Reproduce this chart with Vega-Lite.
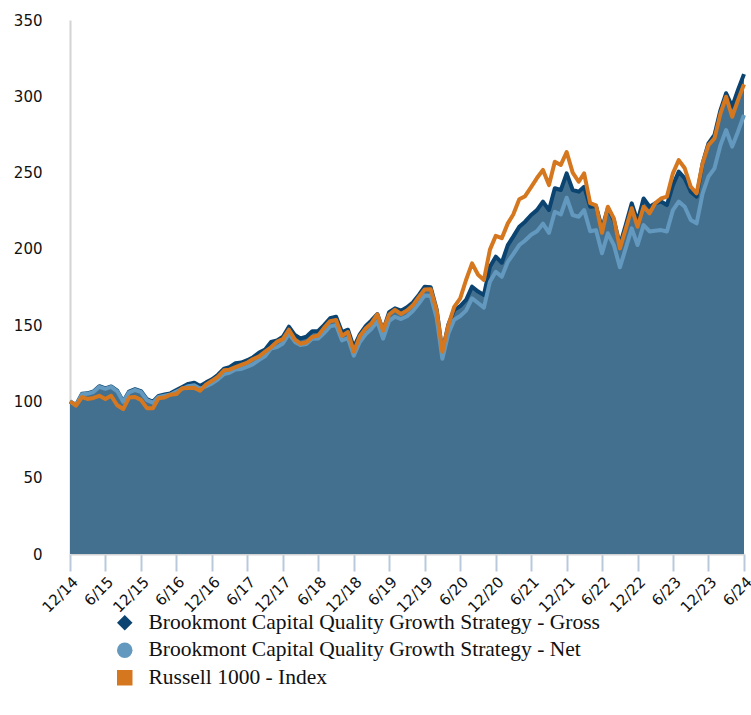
{
  "$schema": "https://vega.github.io/schema/vega-lite/v6.json",
  "autosize": {"type": "none"},
  "padding": {"left": 70, "top": 20, "right": 7, "bottom": 161},
  "width": 674,
  "height": 534,
  "background": "white",
  "config": {"view": {"stroke": null}},
  "data": {"values": [
    {"d":"2014-12-01","g":100,"n":100,"r":100},
    {"d":"2015-01-01","g":97.7,"n":97.5,"r":97.3},
    {"d":"2015-02-01","g":105,"n":104.7,"r":102.9},
    {"d":"2015-03-01","g":105.3,"n":105,"r":101.6},
    {"d":"2015-04-01","g":106.5,"n":106.2,"r":102.3},
    {"d":"2015-05-01","g":110,"n":109.6,"r":103.7},
    {"d":"2015-06-01","g":108.5,"n":108.2,"r":101.6},
    {"d":"2015-07-01","g":109.8,"n":109.5,"r":103.7},
    {"d":"2015-08-01","g":107,"n":106.6,"r":97.5},
    {"d":"2015-09-01","g":100,"n":99.7,"r":95.0},
    {"d":"2015-10-01","g":106.5,"n":106,"r":102.5},
    {"d":"2015-11-01","g":108,"n":107.5,"r":102.9},
    {"d":"2015-12-01","g":106.8,"n":106.2,"r":101.0},
    {"d":"2016-01-01","g":101.5,"n":100.9,"r":95.6},
    {"d":"2016-02-01","g":99.8,"n":99.2,"r":95.6},
    {"d":"2016-03-01","g":103.6,"n":103,"r":102.1},
    {"d":"2016-04-01","g":104.5,"n":103.8,"r":102.6},
    {"d":"2016-05-01","g":105.3,"n":104.5,"r":104.4},
    {"d":"2016-06-01","g":107.5,"n":106.5,"r":104.8},
    {"d":"2016-07-01","g":109.5,"n":108.3,"r":108.7},
    {"d":"2016-08-01","g":111.5,"n":110,"r":108.8},
    {"d":"2016-09-01","g":112.3,"n":110.6,"r":108.9},
    {"d":"2016-10-01","g":110.1,"n":108.3,"r":107.0},
    {"d":"2016-11-01","g":112.5,"n":110,"r":111.2},
    {"d":"2016-12-01","g":114.5,"n":111.8,"r":113.5},
    {"d":"2017-01-01","g":117.5,"n":114.5,"r":116.3},
    {"d":"2017-02-01","g":121.5,"n":118,"r":120.4},
    {"d":"2017-03-01","g":122.5,"n":118.8,"r":120.8},
    {"d":"2017-04-01","g":125,"n":120.9,"r":122.5},
    {"d":"2017-05-01","g":125.5,"n":121.3,"r":124.0},
    {"d":"2017-06-01","g":127,"n":122.8,"r":125.5},
    {"d":"2017-07-01","g":129,"n":124.5,"r":127.8},
    {"d":"2017-08-01","g":132,"n":127.2,"r":129.5},
    {"d":"2017-09-01","g":134,"n":129.7,"r":132.6},
    {"d":"2017-10-01","g":139,"n":134.6,"r":135.5},
    {"d":"2017-11-01","g":140,"n":135.6,"r":139.2},
    {"d":"2017-12-01","g":142.4,"n":138,"r":140.8},
    {"d":"2018-01-01","g":149,"n":144.4,"r":147.0},
    {"d":"2018-02-01","g":143.5,"n":139,"r":140.5},
    {"d":"2018-03-01","g":141.3,"n":137,"r":137.8},
    {"d":"2018-04-01","g":142.4,"n":137.6,"r":138.8},
    {"d":"2018-05-01","g":146,"n":141,"r":142.3},
    {"d":"2018-06-01","g":146.2,"n":141.2,"r":143.2},
    {"d":"2018-07-01","g":150,"n":144.8,"r":148.2},
    {"d":"2018-08-01","g":154.5,"n":149.2,"r":152.6},
    {"d":"2018-09-01","g":155.5,"n":150,"r":153.4},
    {"d":"2018-10-01","g":145.5,"n":140,"r":143.0},
    {"d":"2018-11-01","g":147,"n":141.5,"r":145.5},
    {"d":"2018-12-01","g":135.5,"n":130,"r":132.6},
    {"d":"2019-01-01","g":144,"n":139,"r":142.8},
    {"d":"2019-02-01","g":149.5,"n":144.2,"r":148.0},
    {"d":"2019-03-01","g":153,"n":147.5,"r":151.0},
    {"d":"2019-04-01","g":157.3,"n":152.4,"r":157.0},
    {"d":"2019-05-01","g":146.5,"n":141.2,"r":146.5},
    {"d":"2019-06-01","g":158.5,"n":152.8,"r":157.0},
    {"d":"2019-07-01","g":161,"n":155.5,"r":160.0},
    {"d":"2019-08-01","g":159.5,"n":154,"r":157.3},
    {"d":"2019-09-01","g":161.7,"n":155.8,"r":159.6},
    {"d":"2019-10-01","g":164.8,"n":159.2,"r":163.0},
    {"d":"2019-11-01","g":169.8,"n":164.2,"r":168.5},
    {"d":"2019-12-01","g":175.2,"n":169.5,"r":173.3},
    {"d":"2020-01-01","g":174.8,"n":169.2,"r":173.5},
    {"d":"2020-02-01","g":160,"n":154.5,"r":159.5},
    {"d":"2020-03-01","g":132.5,"n":128,"r":132.5},
    {"d":"2020-04-01","g":150.5,"n":144.5,"r":150.0},
    {"d":"2020-05-01","g":160,"n":153.5,"r":162.0},
    {"d":"2020-06-01","g":162.5,"n":156,"r":167.5},
    {"d":"2020-07-01","g":166.5,"n":159.5,"r":179.6},
    {"d":"2020-08-01","g":175.2,"n":167.5,"r":190.5},
    {"d":"2020-09-01","g":172,"n":164.5,"r":183.0},
    {"d":"2020-10-01","g":169.8,"n":161.5,"r":179.6},
    {"d":"2020-11-01","g":188.3,"n":178.5,"r":199.5},
    {"d":"2020-12-01","g":194.9,"n":185,"r":208.5},
    {"d":"2021-01-01","g":190.9,"n":181.7,"r":207.0},
    {"d":"2021-02-01","g":202.5,"n":191.5,"r":216.7},
    {"d":"2021-03-01","g":208,"n":196.5,"r":222.5},
    {"d":"2021-04-01","g":214.5,"n":202.5,"r":232.5},
    {"d":"2021-05-01","g":217.8,"n":205.5,"r":234.5},
    {"d":"2021-06-01","g":222.2,"n":209.2,"r":240.5},
    {"d":"2021-07-01","g":225.4,"n":211.5,"r":246.4},
    {"d":"2021-08-01","g":230.9,"n":216.5,"r":251.7},
    {"d":"2021-09-01","g":225.4,"n":210.5,"r":241.8},
    {"d":"2021-10-01","g":239.7,"n":224.3,"r":257.1},
    {"d":"2021-11-01","g":238.6,"n":222.5,"r":255.0},
    {"d":"2021-12-01","g":249.5,"n":233.5,"r":263.5},
    {"d":"2022-01-01","g":238.6,"n":222.2,"r":250.0},
    {"d":"2022-02-01","g":237.5,"n":221,"r":244.0},
    {"d":"2022-03-01","g":240.7,"n":225.4,"r":249.5},
    {"d":"2022-04-01","g":227.6,"n":211.5,"r":230.0},
    {"d":"2022-05-01","g":228,"n":212.3,"r":228.5},
    {"d":"2022-06-01","g":213.4,"n":197.1,"r":210.5},
    {"d":"2022-07-01","g":226.6,"n":210.2,"r":227.6},
    {"d":"2022-08-01","g":218.9,"n":202.5,"r":220.0},
    {"d":"2022-09-01","g":202.5,"n":187.9,"r":200.3},
    {"d":"2022-10-01","g":215.6,"n":200.3,"r":213.0},
    {"d":"2022-11-01","g":229.8,"n":213.4,"r":226.6},
    {"d":"2022-12-01","g":218,"n":202.5,"r":214.5},
    {"d":"2023-01-01","g":233,"n":215.6,"r":227.6},
    {"d":"2023-02-01","g":227.6,"n":211.4,"r":223.3},
    {"d":"2023-03-01","g":229.8,"n":211.8,"r":229.8},
    {"d":"2023-04-01","g":231,"n":212.3,"r":233.0},
    {"d":"2023-05-01","g":228.7,"n":211.4,"r":234.2},
    {"d":"2023-06-01","g":241.8,"n":225.4,"r":249.5},
    {"d":"2023-07-01","g":250.6,"n":231,"r":258.2},
    {"d":"2023-08-01","g":246.2,"n":227.6,"r":252.8},
    {"d":"2023-09-01","g":237.4,"n":218.9,"r":240.7},
    {"d":"2023-10-01","g":234.2,"n":216.7,"r":236.4},
    {"d":"2023-11-01","g":256,"n":236.4,"r":256.0},
    {"d":"2023-12-01","g":269.1,"n":247.3,"r":268.0},
    {"d":"2024-01-01","g":274.6,"n":252.8,"r":272.4},
    {"d":"2024-02-01","g":291,"n":268,"r":288.8},
    {"d":"2024-03-01","g":302,"n":277.9,"r":299.7},
    {"d":"2024-04-01","g":293.2,"n":267,"r":286.6},
    {"d":"2024-05-01","g":304.1,"n":276.8,"r":297.5},
    {"d":"2024-06-01","g":314.5,"n":287.7,"r":307.8}
  ]},
  "encoding": {
    "x": {
      "field": "d", "type": "temporal",
      "scale": {"type": "utc", "domain": [{"year": 2014, "month": 12, "date": 1, "utc": true}, {"year": 2024, "month": 6, "date": 1, "utc": true}], "nice": false},
      "axis": {
        "title": null,
        "labelExpr": "utcFormat(datum.value, '%-m/%y')",
        "values": [
          {"year": 2014, "month": 12, "date": 1, "utc": true},
          {"year": 2015, "month": 6, "date": 1, "utc": true},
          {"year": 2015, "month": 12, "date": 1, "utc": true},
          {"year": 2016, "month": 6, "date": 1, "utc": true},
          {"year": 2016, "month": 12, "date": 1, "utc": true},
          {"year": 2017, "month": 6, "date": 1, "utc": true},
          {"year": 2017, "month": 12, "date": 1, "utc": true},
          {"year": 2018, "month": 6, "date": 1, "utc": true},
          {"year": 2018, "month": 12, "date": 1, "utc": true},
          {"year": 2019, "month": 6, "date": 1, "utc": true},
          {"year": 2019, "month": 12, "date": 1, "utc": true},
          {"year": 2020, "month": 6, "date": 1, "utc": true},
          {"year": 2020, "month": 12, "date": 1, "utc": true},
          {"year": 2021, "month": 6, "date": 1, "utc": true},
          {"year": 2021, "month": 12, "date": 1, "utc": true},
          {"year": 2022, "month": 6, "date": 1, "utc": true},
          {"year": 2022, "month": 12, "date": 1, "utc": true},
          {"year": 2023, "month": 6, "date": 1, "utc": true},
          {"year": 2023, "month": 12, "date": 1, "utc": true},
          {"year": 2024, "month": 6, "date": 1, "utc": true}
        ],
        "labelAngle": -45, "labelFont": "DejaVu Sans", "labelFontSize": 15, "labelColor": "#111111",
        "labelPadding": 3, "labelOverlap": false, "labelFlush": false,
        "ticks": true, "tickSize": 17, "tickColor": "#b9c8da", "tickWidth": 2,
        "domain": true, "domainColor": "#d3d3d3", "domainWidth": 2, "grid": false
      }
    }
  },
  "layer": [
    {
      "mark": {"type": "area", "color": "#44708f", "opacity": 1},
      "encoding": {
        "y": {
          "field": "g", "type": "quantitative",
          "scale": {"domain": [0, 350], "nice": false},
          "axis": {
            "title": null, "values": [0, 50, 100, 150, 200, 250, 300, 350],
            "labelFont": "DejaVu Sans", "labelFontSize": 15, "labelColor": "#111111",
            "labelPadding": 28, "ticks": false, "grid": false,
            "domain": true, "domainColor": "#d3d3d3", "domainWidth": 2
          }
        }
      }
    },
    {
      "mark": {"type": "line", "strokeWidth": 4, "strokeJoin": "round", "color": "#0b4470"},
      "encoding": {"y": {"field": "g", "type": "quantitative"}}
    },
    {
      "mark": {"type": "line", "strokeWidth": 4, "strokeJoin": "round", "color": "#6399bf"},
      "encoding": {"y": {"field": "n", "type": "quantitative"}}
    },
    {
      "mark": {"type": "line", "strokeWidth": 4, "strokeJoin": "round", "color": "#d5771e"},
      "encoding": {"y": {"field": "r", "type": "quantitative"}}
    },
    {
      "transform": [{"fold": ["g", "n", "r"], "as": ["k", "v"]}, {"filter": "datum.d == '2014-12-01'"}],
      "mark": {"type": "point", "filled": true, "opacity": 0},
      "encoding": {
        "y": {"field": "v", "type": "quantitative"},
        "color": {
          "field": "k", "type": "nominal",
          "scale": {"domain": ["g", "n", "r"], "range": ["#0b4470", "#6399bf", "#d5771e"]},
          "legend": {
            "title": null, "orient": "none", "legendX": 44, "legendY": 592, "direction": "vertical",
            "labelExpr": "datum.label == 'g' ? 'Brookmont Capital Quality Growth Strategy - Gross' : datum.label == 'n' ? 'Brookmont Capital Quality Growth Strategy - Net' : 'Russell 1000 - Index'",
            "labelFont": "Liberation Serif", "labelFontSize": 21.5, "labelColor": "#111111", "labelLimit": 700,
            "symbolSize": 240, "symbolOpacity": 1, "symbolStrokeWidth": 1, "labelOffset": 13, "rowPadding": 4.5, "padding": 0,
            "encode": {"symbols": {"update": {"opacity": {"value": 1}}}}
          }
        },
        "shape": {
          "field": "k", "type": "nominal",
          "scale": {"domain": ["g", "n", "r"], "range": ["diamond", "circle", "square"]}
        }
      }
    }
  ]
}
